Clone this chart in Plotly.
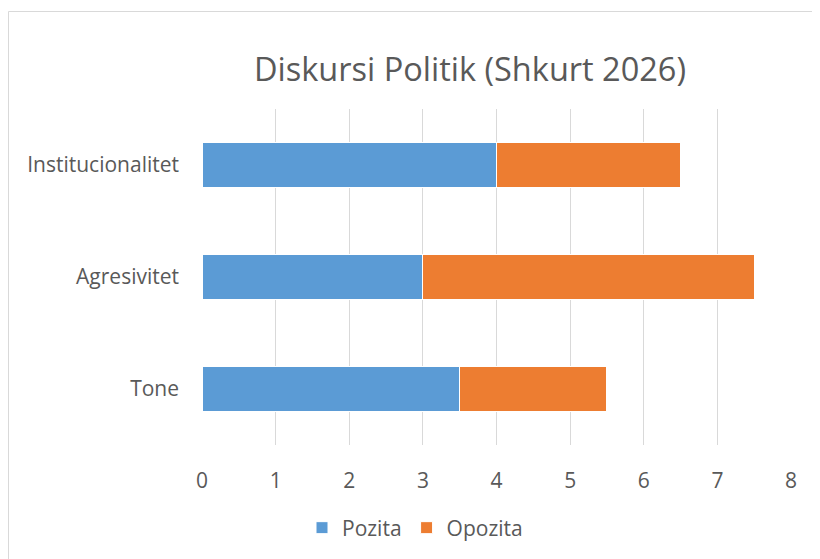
import plotly.graph_objects as go

categories = ["Tone", "Agresivitet", "Institucionalitet"]
pozita = [3.5, 3.0, 4.0]
opozita = [2.0, 4.5, 2.5]
x_ticks = [0, 1, 2, 3, 4, 5, 6, 7, 8]

# page body margin offsets the figure by ~8px; work in reference coordinates
OFF = 8
W, H = 820, 559
L, R, T, B = 202 - OFF, 29 + OFF, 109 - OFF, 114 + OFF
pw, ph = W - L - R, H - T - B

def px(x):
    return (x - OFF - L) / pw

def py(y):
    return (H - B - (y - OFF)) / ph

FONT = "Open Sans"
GREY = "#595959"

fig = go.Figure()
fig.add_trace(go.Bar(y=categories, x=pozita, name="Pozita", orientation="h",
                     marker=dict(color="#5B9BD5", line=dict(color="white", width=1))))
fig.add_trace(go.Bar(y=categories, x=opozita, name="Opozita", orientation="h",
                     marker=dict(color="#ED7D31", line=dict(color="white", width=1))))

fig.update_layout(
    width=W, height=H,
    margin=dict(l=L, r=R, t=T, b=B),
    barmode="stack", bargap=0.6,
    plot_bgcolor="white", paper_bgcolor="white",
    font=dict(family=FONT, color=GREY, size=21),
    title=dict(text="Diskursi Politik (Shkurt 2026)", x=(470 - OFF) / W, xref="container", xanchor="center",
               yref="container", y=1 - (70 - OFF) / H, yanchor="middle",
               font=dict(size=32.5, color=GREY, family=FONT)),
    xaxis=dict(range=[0, 8], tickvals=x_ticks, showgrid=True, gridcolor="#D9D9D9", gridwidth=1,
               zeroline=False, showline=False, ticks="", ticklabelstandoff=21,
               tickfont=dict(size=21, color=GREY), fixedrange=True),
    yaxis=dict(showgrid=False, zeroline=False, showline=False, ticks="", ticklabelstandoff=22,
               tickfont=dict(size=21, color=GREY), range=[-0.5, 2.5]),
    legend=dict(orientation="h", x=px(415), xanchor="center", y=py(528), yanchor="middle",
                font=dict(size=21, color=GREY), itemwidth=30, traceorder="normal"),
    showlegend=True,
    shapes=[dict(type="rect", xref="paper", yref="paper", x0=px(8.5), x1=px(840),
                 y0=py(580), y1=py(11.5), line=dict(color="#D9D9D9", width=1), layer="below")],
)

fig.write_html("out.html")
